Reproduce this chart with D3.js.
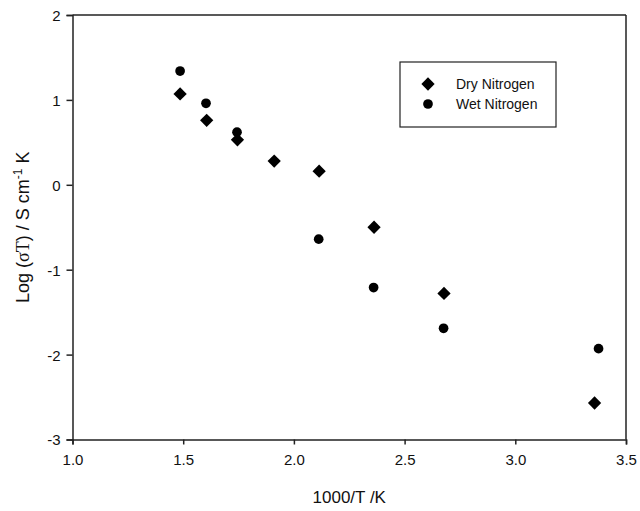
<!DOCTYPE html>
<html>
<head>
<meta charset="utf-8">
<script src="https://cdn.jsdelivr.net/npm/d3@7"></script>
<style>
  html, body { margin: 0; padding: 0; background: #fff; }
  svg { display: block; }
  text { font-family: "Liberation Sans", Arial, sans-serif; fill: #111; }
</style>
</head>
<body>
<svg id="chart" width="640" height="511"></svg>
<script>
// Data
const dryX = [1.486, 1.606, 1.745, 1.911, 2.114, 2.362, 2.678, 3.358];
const dryY = [1.07, 0.76, 0.53, 0.28, 0.16, -0.50, -1.28, -2.57];
const wetX = [1.486, 1.603, 1.743, 2.112, 2.360, 2.676, 3.376];
const wetY = [1.34, 0.96, 0.62, -0.64, -1.21, -1.69, -1.93];
const xTicks = [1.0, 1.5, 2.0, 2.5, 3.0, 3.5];
const yTicks = [-3, -2, -1, 0, 1, 2];
const seriesNames = ["Dry Nitrogen", "Wet Nitrogen"];

const svg = d3.select("#chart");
const L = 72.5, R = 626, T = 15, B = 439.5;

const x = d3.scaleLinear().domain([1.0, 3.5]).range([L, R]);
const y = d3.scaleLinear().domain([-3, 2]).range([B, T]);

const axisColor = "#222";

// frame top and right
svg.append("line").attr("x1", L).attr("x2", R).attr("y1", T).attr("y2", T)
  .attr("stroke", axisColor).attr("stroke-width", 1.5);
svg.append("line").attr("x1", R).attr("x2", R).attr("y1", T).attr("y2", B)
  .attr("stroke", axisColor).attr("stroke-width", 1.5);

// axes
const xAxis = svg.append("g").attr("transform", `translate(0,${B})`)
  .call(d3.axisBottom(x).tickValues(xTicks).tickFormat(d3.format(".1f")).tickSizeOuter(0).tickSize(5).tickPadding(10));
const yAxis = svg.append("g").attr("transform", `translate(${L},0)`)
  .call(d3.axisLeft(y).tickValues(yTicks).tickFormat(d => String(d)).tickSizeOuter(0).tickSize(6).tickPadding(6));

[xAxis, yAxis].forEach(g => {
  g.select(".domain").attr("stroke", axisColor).attr("stroke-width", 1.5);
  g.selectAll(".tick line").attr("stroke", axisColor).attr("stroke-width", 1.5);
  g.selectAll(".tick text").attr("font-size", 15).attr("fill", "#111")
    .style("font-family", '"Liberation Sans", Arial, sans-serif');
});
yAxis.selectAll(".tick text").attr("dy", "0.36em");

// axis titles
svg.append("text").attr("x", (L + R) / 2).attr("y", 503).attr("text-anchor", "middle")
  .attr("font-size", 17).text("1000/T /K");

const yt = svg.append("text").attr("transform", `translate(29,${(T + B) / 2}) rotate(-90)`)
  .attr("text-anchor", "middle").attr("font-size", 18);
yt.append("tspan").text("Log (");
yt.append("tspan").style("font-family", '"Liberation Serif", "Times New Roman", serif').text("σT");
yt.append("tspan").text(") / S cm");
yt.append("tspan").attr("dy", -7).attr("font-size", 12).text("-1");
yt.append("tspan").attr("dy", 7).text(" K");

// markers
const diamond = d3.symbol().type(d3.symbolSquare).size(88);
const circle = d3.symbol().type(d3.symbolCircle).size(74);

const dry = dryX.map((v, i) => ({ x: v, y: dryY[i] }));
const wet = wetX.map((v, i) => ({ x: v, y: wetY[i] }));

svg.append("g").selectAll("path").data(wet).join("path")
  .attr("d", circle).attr("fill", "#000")
  .attr("transform", d => `translate(${x(d.x)},${y(d.y)})`);
svg.append("g").selectAll("path").data(dry).join("path")
  .attr("d", diamond).attr("fill", "#000")
  .attr("transform", d => `translate(${x(d.x)},${y(d.y)}) rotate(45)`);

// legend
const lg = svg.append("g");
lg.append("rect").attr("x", 400).attr("y", 62).attr("width", 156).attr("height", 65)
  .attr("fill", "#fff").attr("stroke", axisColor).attr("stroke-width", 1.2);
lg.append("path").attr("d", diamond).attr("fill", "#000").attr("transform", "translate(428,84) rotate(45)");
lg.append("path").attr("d", circle).attr("fill", "#000").attr("transform", "translate(428,104)");
lg.append("text").attr("x", 456).attr("y", 89).attr("font-size", 14).text(seriesNames[0]);
lg.append("text").attr("x", 456).attr("y", 109).attr("font-size", 14).text(seriesNames[1]);
</script>
</body>
</html>
